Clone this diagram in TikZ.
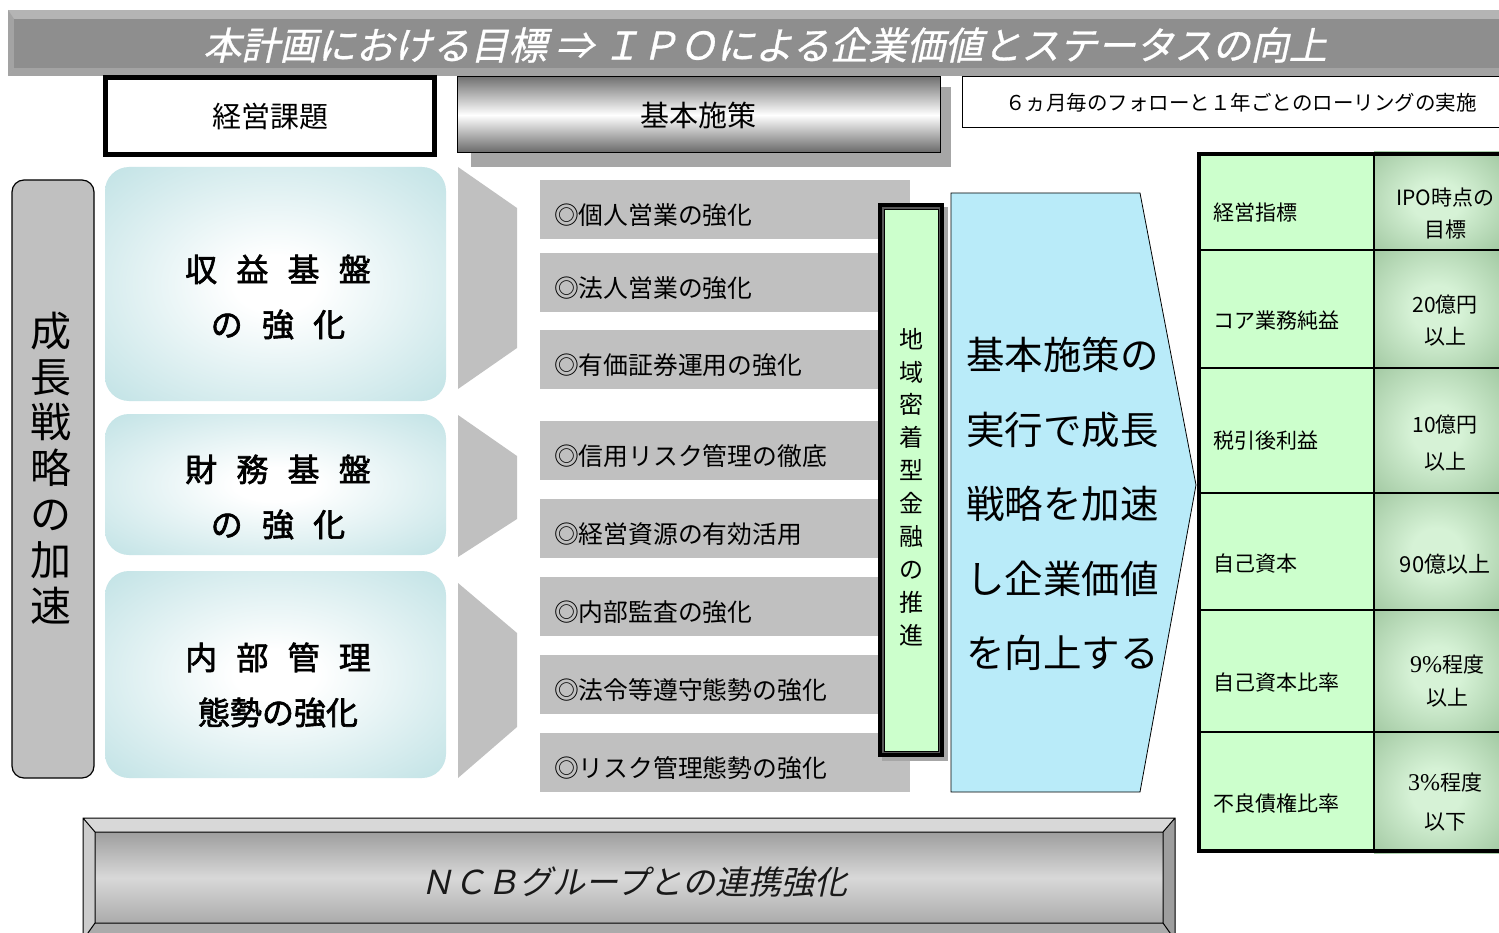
\documentclass[tikz,border=0pt]{standalone}
\usepackage{fontspec}
\setmainfont{Noto Sans CJK JP}
\newfontfamily\jpit[FakeSlant=0.22]{Noto Sans CJK JP}
\newfontfamily\jpitb[FakeSlant=0.22,FakeBold=0.8]{Noto Sans CJK JP}
\newfontfamily\jpbf[FakeBold=2]{Noto Sans CJK JP}
\newfontfamily\numserif{Liberation Serif}
\newcommand\fsz[2]{\fontsize{#1}{#2}\selectfont}
\newcommand\gp{\hspace{0.6em}}
\definecolor{tband}{HTML}{8E8E8E}
\definecolor{tlight}{HTML}{B4B4B4}
\definecolor{tdark}{HTML}{A3A3A3}
\definecolor{itemgray}{HTML}{C0C0C0}
\definecolor{boxblue}{HTML}{BCE0E3}
\definecolor{paleg}{HTML}{CCFFCC}
\definecolor{midg}{HTML}{9AC29A}
\definecolor{lightg}{HTML}{D6F2D6}
\definecolor{arrowblue}{HTML}{B9EBF9}
\definecolor{shadowgray}{HTML}{A6A6A6}
\definecolor{kdark}{HTML}{737373}
\definecolor{nbtop}{HTML}{9E9E9E}
\definecolor{nbmid}{HTML}{D8D8D8}
\definecolor{nbbot}{HTML}{ABABAB}
\pgfdeclareradialshading{bglow}{\pgfpoint{0bp}{0bp}}{color(0bp)=(white); color(6bp)=(white); color(38bp)=(boxblue); color(50bp)=(boxblue)}
\pgfdeclareradialshading{gglow}{\pgfpoint{0bp}{0bp}}{color(0bp)=(lightg); color(10bp)=(lightg); color(40bp)=(midg); color(50bp)=(midg)}
\tikzset{
  every node/.style={inner sep=0pt, outer sep=0pt},
  item/.style={fill=itemgray, anchor=north west, minimum height=59, inner xsep=14, text width=342, align=left, text height=30, text depth=0, font=\fsz{24.8}{28}},
  chev/.style={fill=itemgray},
  bluebox/.style={shading=bglow, rounded corners=24, minimum width=341},
  bigtxt/.style={font=\jpbf\fsz{32}{55}, align=center},
  gcell/.style={shading=gglow, minimum width=125},
  tabtxt/.style={font=\fsz{21}{32}, align=center},
  rowtxt/.style={font=\fsz{21}{25}, anchor=west},
}
\begin{document}
\begin{tikzpicture}[x=1pt,y=-1pt]
\useasboundingbox (0,0) rectangle (1499,933);
\clip (0,0) rectangle (1499,933);
\fill[white] (0,0) rectangle (1499,933);

% ---- title banner
\fill[tlight] (8,10) rectangle (1510,76);
\fill[tdark] (8,76) -- (14,68) -- (1510,68) -- (1510,76) -- cycle;
\fill[tdark] (8,10) -- (14,19) -- (14,68) -- (8,76) -- cycle;
\fill[tband] (14,19) rectangle (1510,68);
\node[font=\jpitb\fsz{38.2}{40}, text=white] (title) at (765,45) {本計画における目標 ⇒ ＩＰＯによる企業価値とステータスの向上};

% ---- header boxes
\node[draw, line width=5, fill=white, minimum width=329, minimum height=77, font=\fsz{29}{32}] (kadai) at (270,116) {経営課題};
\fill[shadowgray] (471,87) rectangle (951,167);
\node[draw, line width=1, top color=kdark, bottom color=kdark!90!black, middle color=white, minimum width=483, minimum height=76, font=\fsz{29}{32}] (kihon) at (698.5,115) {基本施策};
\draw[line width=1, fill=white] (962,77) rectangle (1510,128);
\node[font=\fsz{20.5}{24}] (follow) at (1241,103) {６ヵ月毎のフォローと１年ごとのローリングの実施};

% ---- left vertical box
\node[draw, line width=1.2, fill=itemgray, rounded corners=12, minimum width=82, minimum height=598] (seicho) at (53,479) {};
\node[font=\fsz{41}{45.8}, align=center] (seichotxt) at (51,468) {成\\長\\戦\\略\\の\\加\\速};

% ---- blue boxes
\node[bluebox, minimum height=234] (b1) at (275.5,284) {};
\node[bluebox, minimum height=141] (b2) at (275.5,484.5) {};
\node[bluebox, minimum height=207] (b3) at (275.5,674.5) {};
\node[bigtxt] (t1) at (278,297) {収\gp 益\gp 基\gp 盤\\の\gp 強\gp 化};
\node[bigtxt] (t2) at (278,497) {財\gp 務\gp 基\gp 盤\\の\gp 強\gp 化};
\node[bigtxt] (t3) at (278,685) {内\gp 部\gp 管\gp 理\\態勢の強化};

% ---- chevrons
\fill[chev] (458,167) -- (517,208) -- (517,348) -- (458,389) -- cycle;
\fill[chev] (458,415) -- (517,456) -- (517,519) -- (458,557) -- cycle;
\fill[chev] (458,583) -- (517,633) -- (517,727) -- (458,778) -- cycle;

% ---- items
\node[item] (i1) at (540,180) {◎個人営業の強化};
\node[item] (i2) at (540,253) {◎法人営業の強化};
\node[item] (i3) at (540,330) {◎有価証券運用の強化};
\node[item] (i4) at (540,421) {◎信用リスク管理の徹底};
\node[item] (i5) at (540,499) {◎経営資源の有効活用};
\node[item] (i6) at (540,577) {◎内部監査の強化};
\node[item] (i7) at (540,655) {◎法令等遵守態勢の強化};
\node[item] (i8) at (540,733) {◎リスク管理態勢の強化};

% ---- green vertical box
\fill[gray!70] (882,207) rectangle (948,761);
\fill[black] (878,203) rectangle (944,757);
\fill[black!65] (882,207) rectangle (940,753);
\node[draw, line width=0.8, fill=paleg, minimum width=54, minimum height=542] (chiiki) at (911,480) {};
\node[font=\fsz{24}{32.9}, align=center] (chiikitxt) at (911,487) {地\\域\\密\\着\\型\\金\\融\\の\\推\\進};

% ---- blue arrow
\draw[line width=0.8, fill=arrowblue] (951,193) -- (1140,193) -- (1196,485) -- (1140,792) -- (951,792) -- cycle;
\node[font=\fsz{38.5}{74.5}, align=left, anchor=west] (arrowtxt) at (966,504) {基本施策の\\実行で成長\\戦略を加速\\し企業価値\\を向上する};

% ---- table
\fill[paleg] (1197,152) rectangle (1374,853);
\node[gcell, minimum height=98, anchor=north west] (h2) at (1374,152) {};
\node[gcell, minimum height=118, anchor=north west] (c1) at (1374,250) {};
\node[gcell, minimum height=125, anchor=north west] (c2) at (1374,368) {};
\node[gcell, minimum height=117, anchor=north west] (c3) at (1374,493) {};
\node[gcell, minimum height=122, anchor=north west] (c4) at (1374,610) {};
\node[gcell, minimum height=121, anchor=north west] (c5) at (1374,732) {};
\draw[line width=1.5] (1197,250) -- (1510,250) (1197,368) -- (1510,368) (1197,493) -- (1510,493)
  (1197,610) -- (1510,610) (1197,732) -- (1510,732) (1374,152) -- (1374,853);
\draw[line width=4] (1199,154) rectangle (1515,851);
\node[rowtxt] (r0) at (1213,213) {経営指標};
\node[rowtxt] (r1) at (1213,321) {コア業務純益};
\node[rowtxt] (r2) at (1213,441) {税引後利益};
\node[rowtxt] (r3) at (1213,564) {自己資本};
\node[rowtxt] (r4) at (1213,683) {自己資本比率};
\node[rowtxt] (r5) at (1213,804) {不良債権比率};
\node[tabtxt] (v0) at (1445,214) {IPO時点の\\目標};
\node[tabtxt] (v1) at (1445,321) {20億円\\以上};
\node[tabtxt, font=\fsz{21}{37}] (v2) at (1445,443) {10億円\\以上};
\node[tabtxt, font=\fsz{22}{32}] (v3) at (1445,564) {90億以上};
\node[tabtxt, font=\fsz{21}{33}] (v4) at (1447,681) {{\numserif\fsz{24}{33}9\%}程度\\以上};
\node[tabtxt, font=\fsz{21}{39}] (v5) at (1445,802) {{\numserif\fsz{24}{39}3\%}程度\\以下};

% ---- bottom banner
\fill[nbmid] (83,818) rectangle (1175,940);
\fill[black!20] (83,818) -- (95,832) -- (95,923) -- (83,940) -- cycle;
\fill[nbbot] (83,940) -- (95,923) -- (1163,923) -- (1175,940) -- cycle;
\fill[nbtop] (1175,818) -- (1163,832) -- (1163,923) -- (1175,940) -- cycle;
\shade[top color=nbtop, bottom color=nbbot, middle color=nbmid] (95,832) rectangle (1163,923);
\draw[line width=1] (83,818) rectangle (1175,940) (95,832) rectangle (1163,923)
  (83,818) -- (95,832) (1175,818) -- (1163,832) (83,940) -- (95,923) (1175,940) -- (1163,923);
\node[font=\jpit\fsz{33}{36}, text=black!90] (ncb) at (634,882) {ＮＣＢグループとの連携強化};
\end{tikzpicture}
\end{document}
